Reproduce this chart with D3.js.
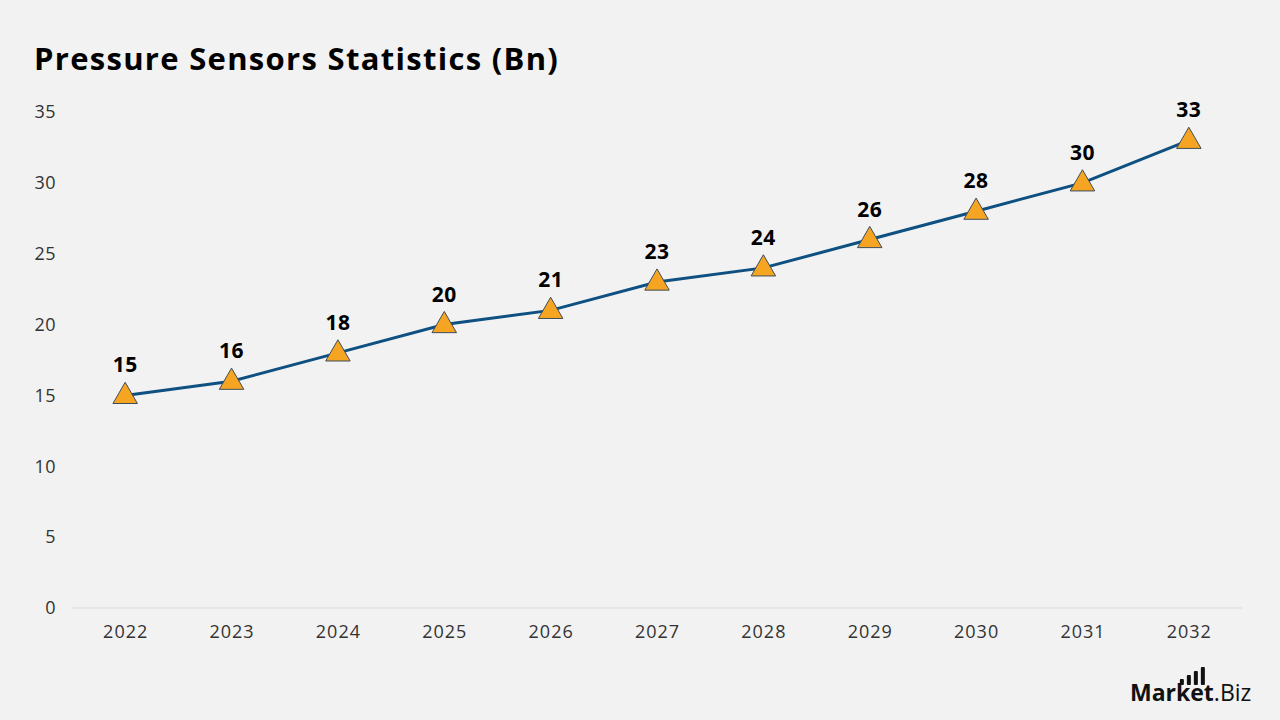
<!DOCTYPE html>
<html>
<head>
<meta charset="utf-8">
<script src="https://cdn.jsdelivr.net/npm/d3@7"></script>
<style>
  body { margin: 0; background: #f2f2f2; }
  svg { display: block; font-family: "Open Sans", sans-serif; }
</style>
</head>
<body>
<div id="chart"></div>
<script>
// Chart data
const years = ["2022", "2023", "2024", "2025", "2026", "2027", "2028", "2029", "2030", "2031", "2032"];
const values = [15, 16, 18, 20, 21, 23, 24, 26, 28, 30, 33];
const yTicks = [0, 5, 10, 15, 20, 25, 30, 35];

const W = 1280, H = 720;
const margin = { top: 112, right: 38, bottom: 112, left: 72 };

const svg = d3.select("#chart")
    .append("svg")
    .attr("width", W)
    .attr("height", H);

svg.append("rect").attr("width", W).attr("height", H).attr("fill", "#f2f2f2");

// Title
svg.append("text")
    .attr("x", 34)
    .attr("y", 70)
    .style("font-size", "31px")
    .style("font-weight", "bold")
    .style("letter-spacing", "1.3px")
    .attr("fill", "#000")
    .text("Pressure Sensors Statistics (Bn)");

const x = d3.scalePoint()
    .domain(years)
    .range([margin.left, W - margin.right])
    .padding(0.5);

const y = d3.scaleLinear()
    .domain([0, 35])
    .range([H - margin.bottom, margin.top]);

// Y axis labels
const yAxis = svg.append("g")
    .attr("transform", `translate(56,0)`)
    .call(d3.axisLeft(y).tickValues(yTicks).tickSize(0).tickPadding(0));
yAxis.select(".domain").remove();
yAxis.selectAll("text")
    .style("font-size", "18px")
    .style("letter-spacing", "0.5px")
    .style("font-family", "Open Sans, sans-serif")
    .attr("fill", "#333");

// X axis
const xAxis = svg.append("g")
    .attr("transform", `translate(0,${y(0)})`)
    .call(d3.axisBottom(x).tickSize(0).tickPadding(17));
xAxis.select(".domain")
    .attr("d", `M${margin.left},0H${W - margin.right}`)
    .attr("stroke", "#d9d9d9");
xAxis.selectAll("text")
    .style("font-size", "18px")
    .style("letter-spacing", "1px")
    .style("font-family", "Open Sans, sans-serif")
    .attr("fill", "#333");

const pts = years.map((yr, i) => ({ year: yr, value: values[i] }));

// Line
svg.append("path")
    .datum(pts)
    .attr("fill", "none")
    .attr("stroke", "#0e5081")
    .attr("stroke-width", 3)
    .attr("d", d3.line()
        .x(d => x(d.year))
        .y(d => y(d.value)));

// Triangle markers
const tri = d3.symbol().type(d3.symbolTriangle).size(260);
svg.selectAll(".marker")
    .data(pts)
    .join("path")
    .attr("class", "marker")
    .attr("d", tri)
    .attr("transform", d => `translate(${x(d.year)},${y(d.value) + 1})`)
    .attr("fill", "#f6a523")
    .attr("stroke", "#3e4d5c")
    .attr("stroke-width", 1);

// Data labels
svg.selectAll(".label")
    .data(pts)
    .join("text")
    .attr("class", "label")
    .attr("x", d => x(d.year))
    .attr("y", d => y(d.value) - 23)
    .attr("text-anchor", "middle")
    .style("font-size", "21px")
    .style("font-weight", "bold")
    .style("letter-spacing", "0.5px")
    .attr("fill", "#000")
    .text(d => d.value);

// Logo
const logo = svg.append("g").attr("transform", "translate(1130,701)");
const mk = logo.append("text")
    .attr("x", 0)
    .attr("y", 0)
    .style("font-size", "23px")
    .style("font-weight", "bold")
    .attr("fill", "#111")
    .text("Market");
const mw = mk.node().getComputedTextLength();
logo.append("text")
    .attr("x", mw)
    .attr("y", 0)
    .style("font-size", "23px")
    .attr("fill", "#111")
    .text(".Biz");
[0, 1, 2, 3].forEach(i => {
    const h = 6 + i * 4;
    logo.append("rect")
        .attr("x", mw - 34 + i * 7)
        .attr("y", -16 - h)
        .attr("width", 4)
        .attr("height", h)
        .attr("rx", 1)
        .attr("fill", "#111");
});
</script>
</body>
</html>
